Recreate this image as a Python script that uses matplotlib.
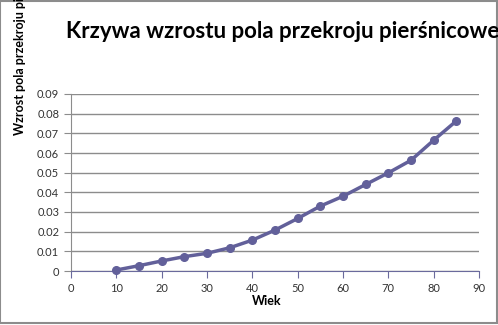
import matplotlib.pyplot as plt

age = [10, 15, 20, 25, 30, 35, 40, 45, 50, 55, 60, 65, 70, 75, 80, 85]
growth = [0.0005, 0.0027, 0.0051, 0.0073, 0.0090, 0.0118, 0.0157, 0.0208,
          0.0267, 0.0330, 0.0380, 0.0440, 0.0499, 0.0563, 0.0665, 0.0763]

title = "Krzywa wzrostu pola przekroju pierśnicowego"
ylabel = "Wzrost pola przekroju pierśnicowego"
xlabel = "Wiek"

plt.rcParams['font.family'] = ['Lato', 'DejaVu Sans']

fig = plt.figure(figsize=(4.98, 3.25), dpi=100)
ax = fig.add_axes([71 / 498, 1 - 271 / 325, 408 / 498, 177 / 325])

ax.plot(age, growth, color='#62609a', lw=2.5, marker='o', ms=5.5,
        markeredgecolor='#62609a', zorder=3, clip_on=False)

ax.set_xlim(0, 90)
ax.set_ylim(0, 0.09)
ax.set_xticks(range(0, 91, 10))
ax.set_yticks([i / 100 for i in range(10)])
ax.set_yticklabels(['0'] + ['%.2f' % (i / 100) for i in range(1, 10)])
ax.grid(axis='y', color='#8c8c8c', lw=1)
ax.set_axisbelow(True)
for s in ['top', 'right']:
    ax.spines[s].set_visible(False)
ax.spines['left'].set_color('#8c8c8c')
ax.spines['bottom'].set_color('#6a6a9c')
ax.tick_params(axis='y', colors='#8c8c8c', labelcolor='#333333', labelsize=8, length=5)
ax.tick_params(axis='x', colors='#6a6a9c', labelcolor='#333333', labelsize=8, length=5)

# title and y label run past the figure edge, as in the original chart
fig.text(66 / 498, 1 - 38 / 325, title, fontsize=16, fontweight='bold',
         va='baseline', ha='left')
fig.text(20 / 498, 1 - 135 / 325, ylabel, fontsize=9, fontweight='bold',
         rotation=90, ha='center', va='bottom')
fig.text(267 / 498, 1 - 301 / 325, xlabel, fontsize=9, fontweight='bold',
         ha='center', va='center')

fig.patches.append(plt.Rectangle((0.001, 0.006), 0.997, 0.992, transform=fig.transFigure,
                                 fill=False, edgecolor='#8c8c8c', lw=1.5))

fig.savefig('out.png', dpi=100)
